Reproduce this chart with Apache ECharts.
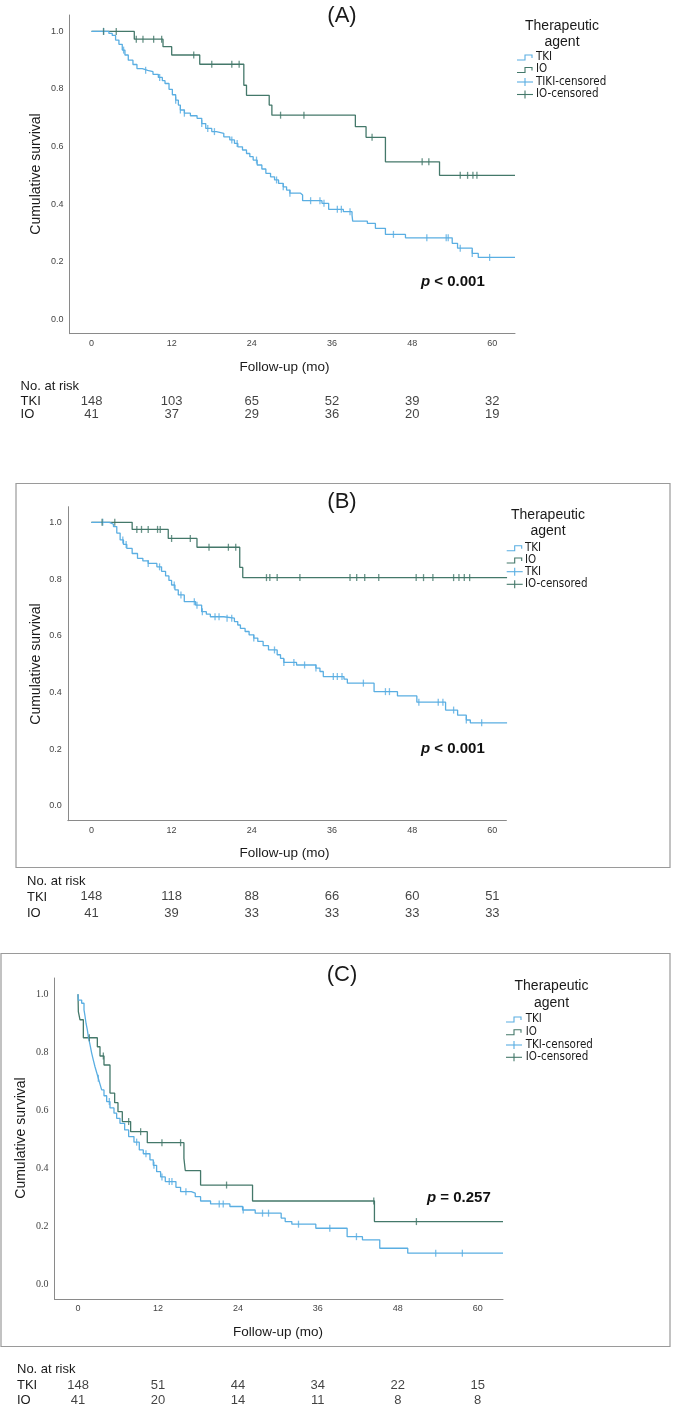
<!DOCTYPE html>
<html><head><meta charset="utf-8">
<script src="https://cdn.jsdelivr.net/npm/echarts@6/dist/echarts.min.js"></script>
<style>html,body{margin:0;padding:0;background:#fff}#c{width:673px;height:1406px}</style>
</head><body><div id="c"></div><script>
// ---------- DATA ----------
const xTickValues = [0, 12, 24, 36, 48, 60];
const yTickValues = [0, 0.2, 0.4, 0.6, 0.8, 1.0];
const atRiskTimes = [0, 12, 24, 36, 48, 60];
const legendLabelsA = ['TKI', 'IO', 'TIKI-censored', 'IO-censored'];
const legendLabelsB = ['TKI', 'IO', 'TKI', 'IO-censored'];
const legendLabelsC = ['TKI', 'IO', 'TKI-censored', 'IO-censored'];
const pTextA = 'p < 0.001', pTextB = 'p < 0.001', pTextC = 'p = 0.257';

// Panel A
const aTkiT = [0,2.6,3.1,3.6,4.1,4.6,5.0,5.5,6.2,6.8,7.6,8.4,9.2,10.0,10.6,11.0,11.6,12.1,12.6,13.0,13.3,13.9,14.8,15.8,16.5,17.1,18.0,18.7,19.8,20.7,21.4,21.9,22.6,23.2,23.7,24.2,24.8,25.5,26.1,26.8,27.4,28.0,28.7,29.2,29.7,31.3,31.6,34.5,35.5,37.7,39.0,39.1,41.3,42.5,44.0,47.0,54.0,54.8,57.0,57.9];
const aTkiS = [1,0.993,0.986,0.970,0.955,0.935,0.918,0.900,0.885,0.871,0.865,0.860,0.851,0.840,0.829,0.819,0.799,0.780,0.761,0.744,0.727,0.716,0.707,0.698,0.680,0.663,0.652,0.646,0.634,0.623,0.611,0.599,0.588,0.576,0.565,0.553,0.536,0.522,0.507,0.495,0.484,0.472,0.460,0.449,0.438,0.432,0.412,0.403,0.382,0.374,0.362,0.341,0.333,0.316,0.295,0.283,0.264,0.247,0.229,0.215];
const aTkiCens = [1.8,4.8,8.1,10.2,12.6,13.3,13.9,16.5,17.4,18.4,21.0,21.8,24.7,27.7,28.7,29.7,32.8,34.2,34.8,36.8,37.4,38.7,45.2,50.2,53.1,53.4,55.2,57.0,59.6];
const aIoT = [0,6.4,10.7,12.0,16.2,22.8,23.2,26.6,27.0,39.5,41.1,44.0,52.1];
const aIoS = [1,0.973,0.947,0.918,0.886,0.813,0.778,0.744,0.709,0.669,0.632,0.547,0.500];
const aIoCens = [1.8,3.7,6.7,7.7,9.3,10.5,15.3,18.0,21.0,22.1,28.3,31.8,42.0,49.5,50.5,55.2,56.3,57.1,57.7];
const aEnd = 63.4;
const aRiskTki = [148, 103, 65, 52, 39, 32];
const aRiskIo = [41, 37, 29, 36, 20, 19];

// Panel B
const bTkiT = [0,2.7,3.3,3.8,4.3,4.8,5.3,6.1,6.9,7.7,8.5,9.8,10.5,11.1,11.6,12.0,12.5,13.0,13.9,15.6,16.5,17.2,17.8,19.8,21.4,21.9,22.3,23.0,23.6,24.3,24.9,25.7,26.5,27.8,28.3,28.8,30.7,33.6,34.2,34.7,37.8,38.3,42.3,45.8,48.7,53.0,54.8,56.1,56.7];
const bTkiS = [1,0.993,0.985,0.962,0.938,0.922,0.908,0.890,0.873,0.864,0.855,0.843,0.827,0.811,0.795,0.779,0.762,0.744,0.720,0.708,0.685,0.676,0.667,0.662,0.650,0.638,0.626,0.615,0.603,0.592,0.580,0.565,0.550,0.533,0.520,0.506,0.497,0.486,0.474,0.456,0.447,0.433,0.403,0.388,0.366,0.338,0.320,0.303,0.293];
const bTkiCens = [1.7,4.7,5.2,8.5,10.2,12.4,13.4,15.4,15.8,16.6,18.5,19.1,20.3,21.0,24.3,27.4,28.8,30.3,31.9,33.6,36.2,36.8,37.5,40.7,44.0,44.6,49.0,51.9,52.6,54.2,56.1,58.4];
const bIoT = [0,6.1,11.5,15.8,22.2,22.65];
const bIoS = [1,0.975,0.943,0.912,0.841,0.805];
const bIoCens = [1.6,3.5,6.8,7.5,8.5,9.9,10.3,12.0,14.8,17.6,20.5,21.6,26.2,26.7,27.8,31.2,38.7,39.7,40.9,43.0,48.6,49.7,51.1,54.2,55.0,55.8,56.6];
const bEnd = 62.2;
const bRiskTki = [148, 118, 88, 66, 60, 51];
const bRiskIo = [41, 39, 33, 33, 33, 33];

// Panel C
const cTkiT = [0,0.05,0.55,0.9,1.05,1.2,1.4,1.55,1.8,2.05,2.3,2.55,2.8,3.05,3.3,3.55,3.9,4.3,4.8,5.4,5.8,6.3,7.0,7.6,8.4,9.2,9.8,10.8,11.3,11.8,12.4,13.1,14.7,15.4,17.0,17.6,18.4,19.9,22.8,24.7,26.6,30.5,31.1,32.1,35.7,40.4,42.7,45.3,49.5];
const cTkiS = [1,0.980,0.969,0.946,0.925,0.900,0.877,0.854,0.826,0.797,0.773,0.750,0.730,0.710,0.690,0.670,0.650,0.630,0.608,0.590,0.572,0.555,0.532,0.509,0.490,0.463,0.450,0.429,0.410,0.388,0.370,0.354,0.334,0.319,0.314,0.302,0.287,0.277,0.268,0.256,0.245,0.228,0.216,0.207,0.193,0.164,0.153,0.124,0.107];
const cTkiCens = [3.05,4.7,8.8,10.2,11.4,12.6,13.7,14.1,16.2,21.2,21.8,24.8,27.7,28.6,33.1,37.8,41.8,53.7,57.7];
const cIoT = [0,0.05,0.3,0.8,2.9,3.3,3.9,4.8,5.5,6.0,6.65,7.9,10.4,15.9,16.1,18.4,26.2,44.5];
const cIoS = [1,0.940,0.912,0.850,0.819,0.787,0.756,0.659,0.626,0.595,0.561,0.526,0.488,0.434,0.392,0.342,0.287,0.216];
const cIoCens = [1.7,3.8,7.6,9.4,12.6,15.4,22.3,44.4,50.8];
const cEnd = 63.8;
const cRiskTki = [148, 51, 44, 34, 22, 15];
const cRiskIo = [41, 20, 14, 11, 8, 8];

// ---------- STYLE ----------
const TKI_COLOR = '#5aaee2';
const IO_COLOR = '#44786a';
const SANS = 'Liberation Sans, Arial, sans-serif';
const COND = 'DejaVu Sans Condensed, DejaVu Sans, sans-serif';

function steps(T, S, end) {
  const d = T.map((t, i) => [t, S[i]]);
  d.push([end, S[S.length - 1]]);
  return d;
}
function survAt(T, S, t) {
  let v = S[0];
  for (let i = 0; i < T.length; i++) { if (T[i] <= t) v = S[i]; else break; }
  return v;
}
function cens(T, S, C) { return C.map(t => [t, survAt(T, S, t)]); }

const panels = [
  { grid: { left: 69.5, top: 15, width: 445.5, height: 318.7 }, xmin: -3.3, xmax: 63.4, ymin: -0.05, ymax: 1.057,
    risk: { top: 401, height: 13 }, ylabFont: SANS },
  { grid: { left: 67.8, top: 506.7, width: 438.6, height: 314 }, xmin: -3.53, xmax: 62.1, ymin: -0.052, ymax: 1.055,
    risk: { top: 896.7, height: 16.6 }, ylabFont: SANS },
  { grid: { left: 54.5, top: 978, width: 448.5, height: 321.3 }, xmin: -3.53, xmax: 63.8, ymin: -0.052, ymax: 1.056,
    risk: { top: 1385, height: 15 }, ylabFont: 'Liberation Serif, serif' }
];

const grids = [], xAxes = [], yAxes = [];
panels.forEach((p, i) => {
  grids.push(Object.assign({ containLabel: false }, p.grid));
  xAxes.push({ type: 'value', gridIndex: i, min: p.xmin, max: p.xmax,
    axisLine: { show: true, onZero: false, lineStyle: { color: '#8a8a8a', width: 1 } },
    axisTick: { show: false }, splitLine: { show: false },
    axisLabel: { customValues: xTickValues, margin: 5, fontSize: 9, color: '#444', fontFamily: SANS } });
  yAxes.push({ type: 'value', gridIndex: i, min: p.ymin, max: p.ymax,
    axisLine: { show: true, onZero: false, lineStyle: { color: '#8a8a8a', width: 1 } },
    axisTick: { show: false }, splitLine: { show: false },
    axisLabel: { customValues: yTickValues, margin: 6, fontSize: i === 2 ? 10 : 9, color: '#444', fontFamily: p.ylabFont,
      formatter: v => v.toFixed(1) } });
});
panels.forEach((p, i) => {
  grids.push({ left: p.grid.left, width: p.grid.width, top: p.risk.top, height: p.risk.height });
  xAxes.push({ type: 'value', gridIndex: 3 + i, min: p.xmin, max: p.xmax, show: false });
  yAxes.push({ type: 'value', gridIndex: 3 + i, min: 0, max: 1, show: false });
});

const series = [];
const curveSets = [
  [aTkiT, aTkiS, aTkiCens, aIoT, aIoS, aIoCens, aEnd],
  [bTkiT, bTkiS, bTkiCens, bIoT, bIoS, bIoCens, bEnd],
  [cTkiT, cTkiS, cTkiCens, cIoT, cIoS, cIoCens, cEnd]
];
curveSets.forEach((c, i) => {
  const [tT, tS, tC, iT, iS, iC, end] = c;
  series.push({ type: 'line', xAxisIndex: i, yAxisIndex: i, step: 'end', symbol: 'none', silent: true,
    data: steps(tT, tS, end), lineStyle: { color: TKI_COLOR, width: 1.3 }, z: 3 });
  series.push({ type: 'line', xAxisIndex: i, yAxisIndex: i, step: 'end', symbol: 'none', silent: true,
    data: steps(iT, iS, end), lineStyle: { color: IO_COLOR, width: 1.3 }, z: 2 });
  series.push({ type: 'scatter', xAxisIndex: i, yAxisIndex: i, symbol: 'rect', symbolSize: [1.3, 7], silent: true,
    data: cens(tT, tS, tC), itemStyle: { color: TKI_COLOR }, z: 4 });
  series.push({ type: 'scatter', xAxisIndex: i, yAxisIndex: i, symbol: 'rect', symbolSize: [1.3, 7], silent: true,
    data: cens(iT, iS, iC), itemStyle: { color: IO_COLOR }, z: 4 });
});
const riskSets = [[aRiskTki, aRiskIo], [bRiskTki, bRiskIo], [cRiskTki, cRiskIo]];
riskSets.forEach((r, i) => {
  const data = [];
  atRiskTimes.forEach((t, k) => { data.push([t, 1, r[0][k]]); data.push([t, 0, r[1][k]]); });
  series.push({ type: 'scatter', xAxisIndex: 3 + i, yAxisIndex: 3 + i, symbolSize: 1, silent: true,
    itemStyle: { color: 'rgba(0,0,0,0)' }, data,
    label: { show: true, position: 'inside', formatter: p => String(p.value[2]), fontSize: 13,
      color: '#111', fontFamily: SANS } });
});

// ---------- TEXT / DECORATION (graphic) ----------
const g = [];
function txt(x, y, text, font, align, extra) {
  g.push(Object.assign({ type: 'text', x, y, silent: true,
    style: { text, font, fill: '#1a1a1a', textAlign: align || 'left', textVerticalAlign: 'middle', verticalAlign: 'middle' } }, extra || {}));
}
function ytitle(x, y) {
  g.push({ type: 'text', x, y, rotation: Math.PI / 2, silent: true,
    style: { text: 'Cumulative survival', font: '14px ' + SANS, fill: '#1a1a1a', textAlign: 'center', textVerticalAlign: 'middle', verticalAlign: 'middle' } });
}
function pval(x, y, text) {
  const rest = text.slice(1);
  g.push({ type: 'text', x, y, silent: true,
    style: { text: '{i|p}{b|' + rest + '}', textVerticalAlign: 'middle', verticalAlign: 'middle',
      rich: { i: { font: 'italic bold 15px ' + SANS, fill: '#111', fontStyle: 'italic', fontWeight: 'bold', fontSize: 15, fontFamily: SANS },
              b: { font: 'bold 15px ' + SANS, fill: '#111', fontWeight: 'bold', fontSize: 15, fontFamily: SANS } } } });
}
function legend(symX, textX, titleCX, yT, yA, ys, labels) {
  txt(titleCX, yT, 'Therapeutic', '14px ' + SANS, 'center');
  txt(titleCX, yA, 'agent', '14px ' + SANS, 'center');
  const cols = [TKI_COLOR, IO_COLOR, TKI_COLOR, IO_COLOR];
  ys.forEach((y, k) => {
    if (k < 2) {
      g.push({ type: 'polyline', silent: true, shape: { points: [[symX, y + 3], [symX + 8, y + 3], [symX + 8, y - 2], [symX + 15, y - 2], [symX + 15, y + 1]] },
        style: { stroke: cols[k], lineWidth: 1.1, fill: null } });
    } else {
      g.push({ type: 'line', silent: true, shape: { x1: symX, y1: y, x2: symX + 16, y2: y }, style: { stroke: cols[k], lineWidth: 1.1 } });
      g.push({ type: 'line', silent: true, shape: { x1: symX + 8, y1: y - 4, x2: symX + 8, y2: y + 4 }, style: { stroke: cols[k], lineWidth: 1.1 } });
    }
    txt(textX, y, labels[k], '11.5px ' + COND, 'left');
  });
}
function riskHead(x, y0, y1, y2) {
  txt(x, y0, 'No. at risk', '13px ' + SANS, 'left');
  txt(x, y1, 'TKI', '13px ' + SANS, 'left');
  txt(x, y2, 'IO', '13px ' + SANS, 'left');
}

// boxes for B and C
g.push({ type: 'rect', silent: true, shape: { x: 16, y: 483.5, width: 654, height: 384 }, style: { fill: null, stroke: '#9a9a9a', lineWidth: 1.2 }, z: -1 });
g.push({ type: 'rect', silent: true, shape: { x: 1, y: 953.5, width: 669, height: 393 }, style: { fill: null, stroke: '#9a9a9a', lineWidth: 1.2 }, z: -1 });

// Panel A text
txt(342, 15.5, '(A)', '22px ' + SANS, 'center');
ytitle(36, 174);
txt(284.5, 367, 'Follow-up (mo)', '13.5px ' + SANS, 'center');
legend(517, 536, 562, 26, 42, [57, 69.5, 82, 94.5], legendLabelsA);
pval(421, 282, pTextA);
riskHead(20.6, 386, 401, 414);

// Panel B text
txt(342, 502, '(B)', '22px ' + SANS, 'center');
ytitle(36, 664);
txt(284.5, 853, 'Follow-up (mo)', '13.5px ' + SANS, 'center');
legend(506.7, 525, 548, 515, 531, [547.7, 560, 571.7, 584.3], legendLabelsB);
pval(421, 749, pTextB);
riskHead(27, 881, 897, 913);

// Panel C text
txt(342, 975, '(C)', '22px ' + SANS, 'center');
ytitle(21, 1138);
txt(278, 1332, 'Follow-up (mo)', '13.5px ' + SANS, 'center');
legend(506, 525.7, 551.5, 986, 1002.7, [1019, 1031.7, 1045, 1057.3], legendLabelsC);
pval(427, 1198, pTextC);
riskHead(17, 1369, 1385, 1400);

const chart = echarts.init(document.getElementById('c'), null, { renderer: 'canvas' });
chart.setOption({
  animation: false,
  backgroundColor: '#ffffff',
  grid: grids, xAxis: xAxes, yAxis: yAxes,
  series,
  graphic: g
});
</script></body></html>
